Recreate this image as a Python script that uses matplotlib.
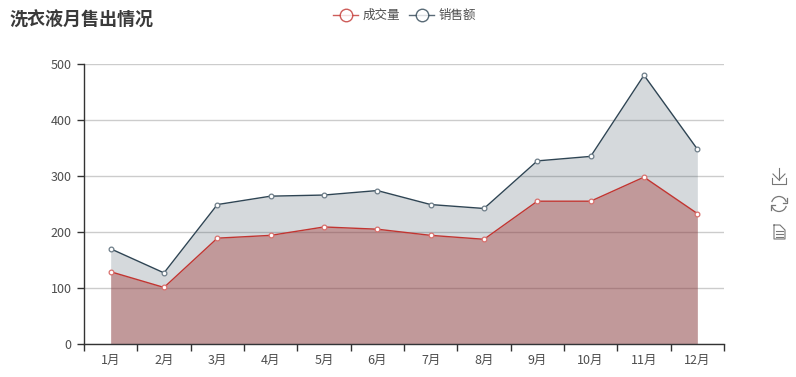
import numpy as np
import matplotlib
matplotlib.use('Agg')
import matplotlib.pyplot as plt
from matplotlib.lines import Line2D
from matplotlib.patches import Arc

plt.rcParams['font.family'] = ['Noto Sans CJK SC', 'DejaVu Sans']

W, H = 796, 377

months = ['1月', '2月', '3月', '4月', '5月', '6月', '7月', '8月', '9月', '10月', '11月', '12月']
volume = [129, 101, 189, 194, 209, 205, 194, 187, 255, 255, 298, 233]
sales = [170, 127, 249, 264, 266, 274, 249, 242, 327, 335, 480, 348]
y_ticks = [0, 100, 200, 300, 400, 500]

RED = '#c23531'
NAVY = '#2f4554'
AXIS = '#333333'
LABEL = '#4d4d4d'

fig = plt.figure(figsize=(W / 100, H / 100), dpi=100)
ax = fig.add_axes([84 / W, 1 - 344 / H, 640 / W, 280 / H])

x = np.arange(len(months))

# navy area goes over the red one, that is what gives the grey-brown overlap
ax.fill_between(x, volume, color=RED, alpha=0.4, linewidth=0, zorder=2)
ax.fill_between(x, sales, color=NAVY, alpha=0.2, linewidth=0, zorder=3)
ax.plot(x, sales, color=NAVY, lw=1, zorder=4)
ax.plot(x, volume, color=RED, lw=1, zorder=4)
ax.plot(x, sales, ls='none', marker='o', ms=3.4, mfc='white', mec='#6d7d88', mew=0.9, zorder=5)
ax.plot(x, volume, ls='none', marker='o', ms=3.4, mfc='white', mec='#d9706d', mew=0.9, zorder=5)

ax.set_xlim(-0.5, len(months) - 0.5)
ax.set_ylim(0, 500)
ax.set_xticks(x, months)
ax.set_xticks(np.arange(len(months) + 1) - 0.5, minor=True)
ax.set_yticks(y_ticks)
ax.grid(axis='y', color='#cccccc', lw=1, zorder=1)
ax.set_axisbelow(True)

for s in ['top', 'right']:
    ax.spines[s].set_visible(False)
for s in ['left', 'bottom']:
    ax.spines[s].set_color(AXIS)
    ax.spines[s].set_linewidth(1)

ax.tick_params(axis='x', which='major', length=0, pad=7, labelsize=9, labelcolor=LABEL)
ax.tick_params(axis='x', which='minor', length=5, width=1, color=AXIS, direction='out')
ax.tick_params(axis='y', length=5, width=1, color=AXIS, pad=4, labelsize=9, labelcolor=LABEL)

# title, legend and toolbox are laid out in pixels on an overlay
ov = fig.add_axes([0, 0, 1, 1], facecolor='none')
ov.set_xlim(0, W)
ov.set_ylim(H, 0)
ov.axis('off')

ov.text(9, 20, '洗衣液月售出情况', fontsize=13, fontweight='bold', color='#3a3a3a', va='center', ha='left')

for x0, color, label in [(333, RED, '成交量'), (409, NAVY, '销售额')]:
    ov.add_line(Line2D([x0, x0 + 25], [15, 15], color=color, lw=1, alpha=0.8))
    ov.add_line(Line2D([x0 + 12.5], [15], color=color, marker='o', ms=9, mfc='white', mew=1, alpha=0.8))
    ov.text(x0 + 30, 15, label, fontsize=9, color=LABEL, va='center', ha='left')

ICON = '#777777'
# save icon
ov.add_line(Line2D([772, 772, 786, 786], [178, 184, 184, 178], color=ICON, lw=0.8))
ov.add_line(Line2D([779, 779], [168, 180], color=ICON, lw=0.8))
ov.add_line(Line2D([773, 779, 785], [174, 180, 174], color=ICON, lw=0.8))
# refresh icon
ov.add_patch(Arc((779, 204), 15, 15, theta1=195, theta2=345, color=ICON, lw=0.9))
ov.add_patch(Arc((779, 204), 15, 15, theta1=15, theta2=165, color=ICON, lw=0.9))
ov.add_line(Line2D([783, 787, 787], [203, 203, 198], color=ICON, lw=0.9))
ov.add_line(Line2D([771, 771, 775], [210, 205, 205], color=ICON, lw=0.9))
# data view icon
ov.add_line(Line2D([774, 780, 785, 785, 774, 774], [225, 225, 230, 239, 239, 225], color=ICON, lw=0.8))
for yy in [231, 234, 237]:
    ov.add_line(Line2D([776, 783], [yy, yy], color=ICON, lw=0.8))

fig.savefig('out.png', dpi=100)
